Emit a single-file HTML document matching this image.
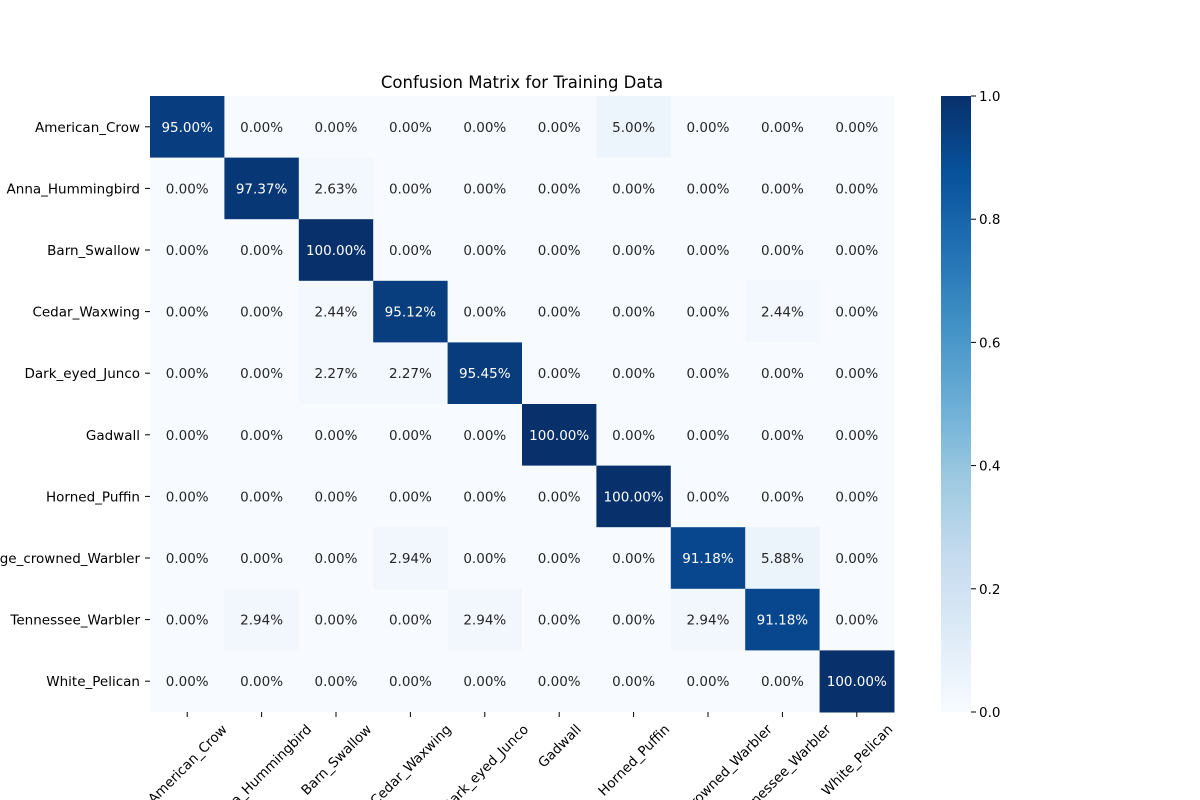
<!DOCTYPE html>
<html><head><meta charset="utf-8"><style>
body{margin:0;background:#fff;overflow:hidden;width:1200px;height:800px;}
svg{display:block;font-family:"DejaVu Sans","Liberation Sans",sans-serif;overflow:hidden;}
</style></head><body>
<svg id="c" width="1200" height="800">
<text x="522" y="88" text-anchor="middle" font-size="16.5">Confusion Matrix for Training Data</text>
<defs><linearGradient id="bl" x1="0" y1="1" x2="0" y2="0">
<stop offset="0" stop-color="#f7fbff"/><stop offset="0.125" stop-color="#deebf7"/><stop offset="0.25" stop-color="#c6dbef"/><stop offset="0.375" stop-color="#9ecae1"/><stop offset="0.5" stop-color="#6baed6"/><stop offset="0.625" stop-color="#4292c6"/><stop offset="0.75" stop-color="#2171b5"/><stop offset="0.875" stop-color="#08519c"/><stop offset="1" stop-color="#08306b"/>
</linearGradient></defs>
<g id="cells"></g>
<g id="cb"></g>
</svg>
<script>
const classes=["American_Crow","Anna_Hummingbird","Barn_Swallow","Cedar_Waxwing","Dark_eyed_Junco","Gadwall","Horned_Puffin","Orange_crowned_Warbler","Tennessee_Warbler","White_Pelican"];
const row0=[0.95,0,0,0,0,0,0.05,0,0,0];
const row1=[0,0.9737,0.0263,0,0,0,0,0,0,0];
const row2=[0,0,1,0,0,0,0,0,0,0];
const row3=[0,0,0.0244,0.9512,0,0,0,0,0.0244,0];
const row4=[0,0,0.0227,0.0227,0.9545,0,0,0,0,0];
const row5=[0,0,0,0,0,1,0,0,0,0];
const row6=[0,0,0,0,0,0,1,0,0,0];
const row7=[0,0,0,0.0294,0,0,0,0.9118,0.0588,0];
const row8=[0,0.0294,0,0,0.0294,0,0,0.0294,0.9118,0];
const row9=[0,0,0,0,0,0,0,0,0,1];
const matrix=[row0,row1,row2,row3,row4,row5,row6,row7,row8,row9];
const cbTicks=[0,0.2,0.4,0.6,0.8,1.0];
const X0=150,X1=894,Y0=96,Y1=712,CB0=941,CB1=971;
const cw=(X1-X0)/classes.length,ch=(Y1-Y0)/classes.length;
const xs=i=>X0+i*cw, ys=i=>Y0+i*ch, cy=v=>Y1-v*(Y1-Y0);
const stops=["#f7fbff","#deebf7","#c6dbef","#9ecae1","#6baed6","#4292c6","#2171b5","#08519c","#08306b"];
function hx(s){return [1,3,5].map(k=>parseInt(s.substr(k,2),16));}
function blues(v){v=Math.max(0,Math.min(1,v));const p=v*8,i=Math.min(7,Math.floor(p)),t=p-i;const a=hx(stops[i]),b=hx(stops[i+1]);return "rgb("+a.map((c,k)=>Math.round(c+(b[k]-c)*t)).join(",")+")";}
const NS="http://www.w3.org/2000/svg";
function mk(t,at,par,txt){const e=document.createElementNS(NS,t);for(const k in at)e.setAttribute(k,at[k]);if(txt!==undefined)e.textContent=txt;par.appendChild(e);return e;}
const g=document.getElementById('cells'),svg=document.getElementById('c'),cb=document.getElementById('cb');
matrix.forEach((row,r)=>row.forEach((v,c)=>{
  const rc=mk('rect',{x:xs(c),y:ys(r),width:cw+0.5,height:ch+0.5,fill:blues(v)},g);
  
  
  const t=mk('text',{x:xs(c)+cw/2,y:ys(r)+ch/2+5,'text-anchor':'middle','font-size':'13.5',fill:v>0.5?'#fff':'#262626'},g,(v*100).toFixed(2)+'%');
  
  
}));
classes.forEach((n,i)=>{
  const y=ys(i)+ch/2;
  mk('line',{x1:X0-5,x2:X0,y1:y,y2:y,stroke:'#000'},svg);
  const t=mk('text',{x:X0-10,y:y+5,'text-anchor':'end','font-size':'13.5'},svg,n);
  
  
  const x=xs(i)+cw/2;
  mk('line',{x1:x,x2:x,y1:Y1,y2:Y1+5,stroke:'#000'},svg);
  const tx=mk('text',{x:0,y:5,'text-anchor':'middle','font-size':'13.5'},svg,n);
  const L=tx.getComputedTextLength();
  const cyc=Y1+10+(L+13)*0.7071/2;
  tx.setAttribute('transform',`translate(${x},${cyc}) rotate(-45)`);
  
  
});
mk('rect',{x:CB0,y:Y0,width:CB1-CB0,height:Y1-Y0,fill:'url(#bl)'},cb);
cbTicks.forEach(v=>{
  const y=cy(v);
  mk('line',{x1:CB1,x2:CB1+5,y1:y,y2:y,stroke:'#000'},cb);
  const t=mk('text',{x:CB1+8,y:y+5,'font-size':'13.5'},cb,v.toFixed(1));
  
  
});
</script>
</body></html>
